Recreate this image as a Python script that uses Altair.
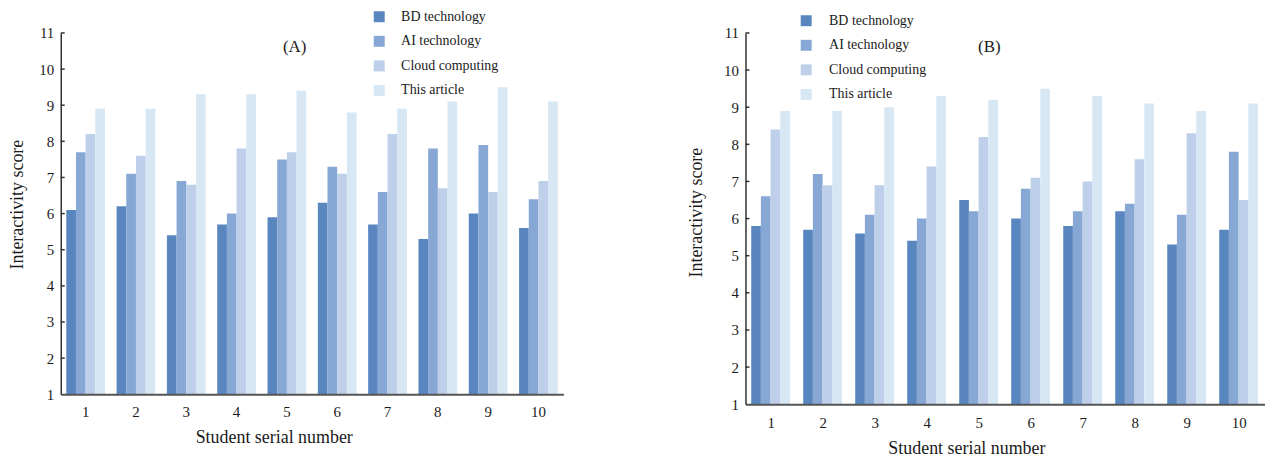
import altair as alt
import pandas as pd

students = list(range(1, 11))
series = ["BD technology", "AI technology", "Cloud computing", "This article"]
colors = ["#5A86C0", "#87A7D4", "#BED0E9", "#D7E7F3"]

a_bd = [6.1, 6.2, 5.4, 5.7, 5.9, 6.3, 5.7, 5.3, 6.0, 5.6]
a_ai = [7.7, 7.1, 6.9, 6.0, 7.5, 7.3, 6.6, 7.8, 7.9, 6.4]
a_cloud = [8.2, 7.6, 6.8, 7.8, 7.7, 7.1, 8.2, 6.7, 6.6, 6.9]
a_this = [8.9, 8.9, 9.3, 9.3, 9.4, 8.8, 8.9, 9.1, 9.5, 9.1]

b_bd = [5.8, 5.7, 5.6, 5.4, 6.5, 6.0, 5.8, 6.2, 5.3, 5.7]
b_ai = [6.6, 7.2, 6.1, 6.0, 6.2, 6.8, 6.2, 6.4, 6.1, 7.8]
b_cloud = [8.4, 6.9, 6.9, 7.4, 8.2, 7.1, 7.0, 7.6, 8.3, 6.5]
b_this = [8.9, 8.9, 9.0, 9.3, 9.2, 9.5, 9.3, 9.1, 8.9, 9.1]

y_ticks = list(range(1, 12))
inner_ticks = list(range(2, 12))

FONT = "Liberation Serif"
TXT = "#1a1a1a"


def to_df(cols):
    rows = []
    for s, vals in zip(series, cols):
        for st, v in zip(students, vals):
            rows.append({"student": st, "series": s, "value": v})
    return pd.DataFrame(rows)


def panel(df, label, width, height, lx, ly, ytx, yty, xtx, xty, tdx, tdy, loff, xlp):
    ysc = alt.Scale(domain=[1, 11], nice=False, zero=False)
    yaxis = alt.Axis(
        title="Interactivity score",
        values=y_ticks,
        labelOverlap=False,
        ticks=False,
        grid=False,
        labelPadding=7,
        labelFont=FONT,
        labelFontSize=15,
        labelColor=TXT,
        domainColor="#333333",
        domainWidth=1.5,
        zindex=1,
        titleX=ytx,
        titleY=yty,
        titleBaseline="middle",
        titleAlign="center",
        titleFont=FONT,
        titleFontSize=18,
        titleFontWeight="normal",
        titleColor=TXT,
    )
    bars = alt.Chart(df).mark_bar().encode(
        x=alt.X(
            "student:O",
            sort=students,
            scale=alt.Scale(paddingInner=0.23, paddingOuter=0.11),
            axis=alt.Axis(
                title="Student serial number",
                labelAngle=0,
                ticks=False,
                labelPadding=xlp,
                labelFont=FONT,
                labelFontSize=15,
                labelColor=TXT,
                domainColor="#555555",
                domainWidth=2,
                zindex=1,
                titleX=xtx,
                titleY=xty,
                titleBaseline="middle",
                titleAlign="center",
                titleFont=FONT,
                titleFontSize=18,
                titleFontWeight="normal",
                titleColor=TXT,
            ),
        ),
        xOffset=alt.XOffset(
            "series:N", sort=series, scale=alt.Scale(paddingInner=0, paddingOuter=0)
        ),
        y=alt.Y("value:Q", scale=ysc, axis=yaxis),
        y2=alt.datum(1),
        color=alt.Color(
            "series:N",
            sort=series,
            scale=alt.Scale(domain=series, range=colors),
            legend=alt.Legend(
                title=None,
                orient="none",
                legendX=lx,
                legendY=ly,
                direction="vertical",
                symbolType="square",
                symbolSize=121,
                symbolStrokeWidth=0,
                labelFont=FONT,
                labelFontSize=14,
                labelColor=TXT,
                labelOffset=loff,
                rowPadding=10.7,
                padding=0,
            ),
        ),
    )
    tdf = pd.DataFrame({"value": inner_ticks})
    ticks = alt.Chart(tdf).mark_rule(color="#333333", strokeWidth=1.5).encode(
        y=alt.Y("value:Q", scale=ysc, axis=yaxis),
        x=alt.value(0),
        x2=alt.value(4),
    )
    return alt.layer(bars, ticks).properties(
        width=width,
        height=height,
        title=alt.TitleParams(
            text=label,
            anchor="start",
            frame="group",
            align="center",
            dx=tdx,
            dy=tdy,
            offset=0,
            baseline="middle",
            font=FONT,
            fontSize=17,
            fontWeight="normal",
            color=TXT,
        ),
    )


pa = panel(to_df([a_bd, a_ai, a_cloud, a_this]), "(A)", 505, 363,
           313, -23.3, -43, 172, 214, 44, 235, 54.3, 15, 10)
pb = panel(to_df([b_bd, b_ai, b_cloud, b_this]), "(B)", 522, 373,
           54, -19.3, -49, 180, 222, 45, 245, 50.3, 16, 11)

chart = (
    alt.hconcat(pa, pb, spacing=125)
    .resolve_scale(color="independent")
    .properties(padding={"left": 1, "top": 0, "right": 0, "bottom": 0})
    .configure_view(stroke=None)
)

chart.save("out.html", embed_options={"renderer": "svg", "actions": False})
